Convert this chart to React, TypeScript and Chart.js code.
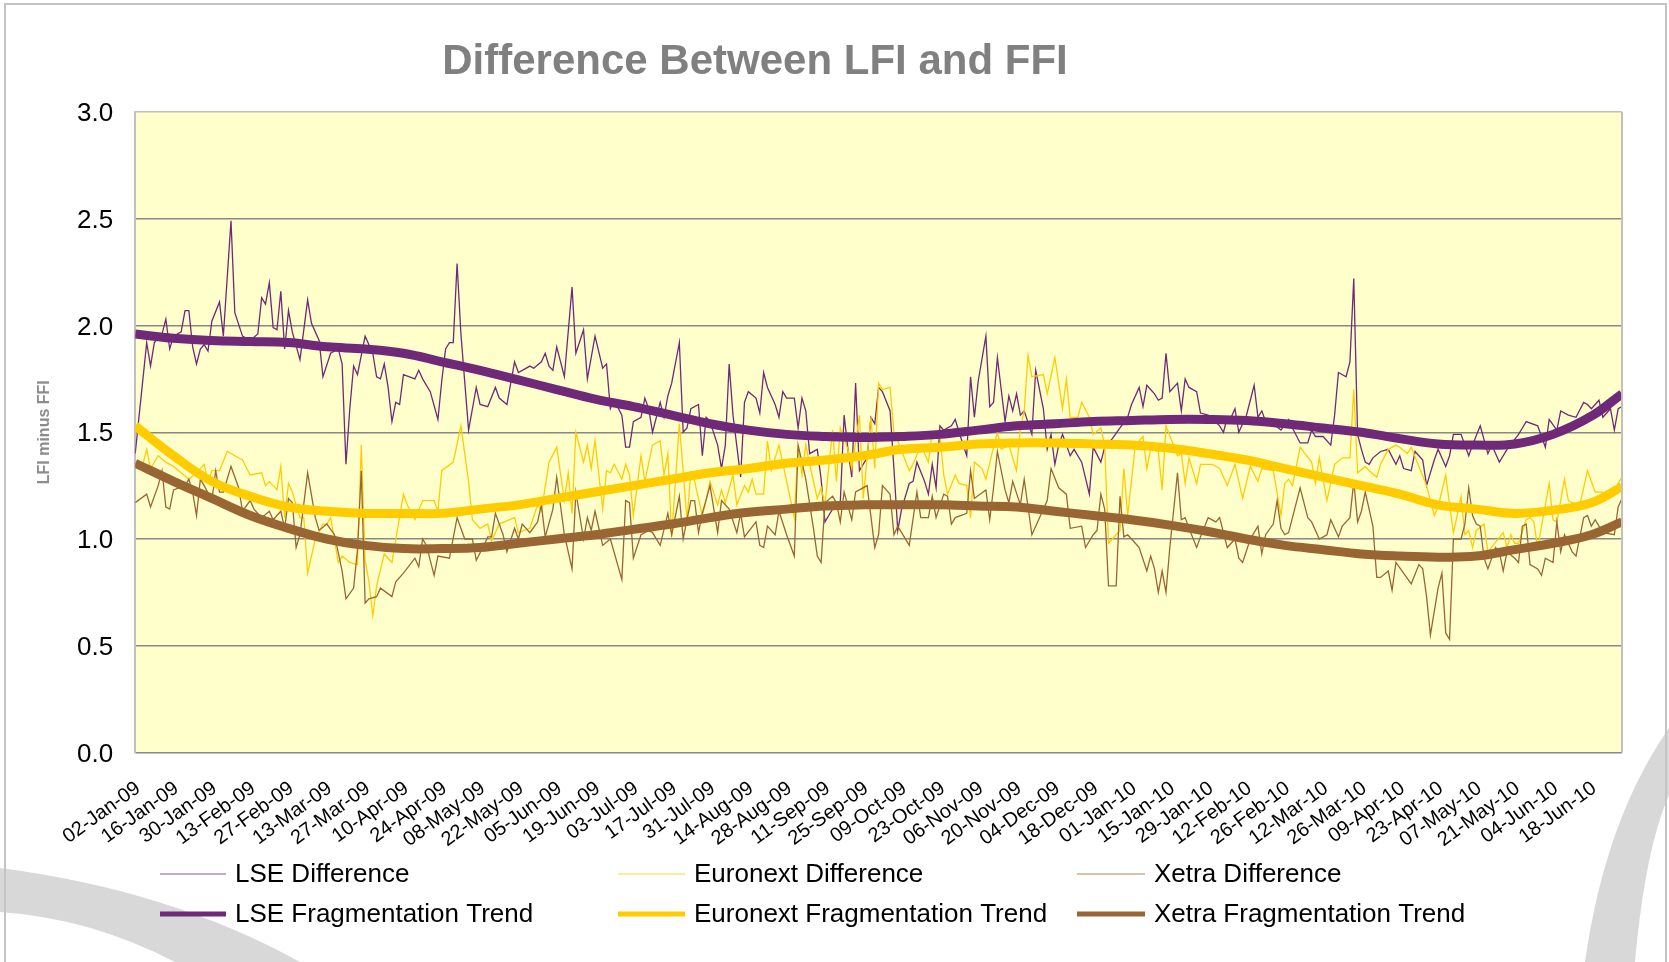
import React, { useEffect, useRef } from "react";
import { Chart, registerables } from "chart.js";

Chart.register(...registerables);

const FONT = "'Liberation Sans', Arial, sans-serif";

const tickLabels = [
  "02-Jan-09", "16-Jan-09", "30-Jan-09", "13-Feb-09", "27-Feb-09", "13-Mar-09", "27-Mar-09",
  "10-Apr-09", "24-Apr-09", "08-May-09", "22-May-09", "05-Jun-09", "19-Jun-09", "03-Jul-09",
  "17-Jul-09", "31-Jul-09", "14-Aug-09", "28-Aug-09", "11-Sep-09", "25-Sep-09", "09-Oct-09",
  "23-Oct-09", "06-Nov-09", "20-Nov-09", "04-Dec-09", "18-Dec-09", "01-Jan-10", "15-Jan-10",
  "29-Jan-10", "12-Feb-10", "26-Feb-10", "12-Mar-10", "26-Mar-10", "09-Apr-10", "23-Apr-10",
  "07-May-10", "21-May-10", "04-Jun-10", "18-Jun-10",
];

// [trading-day index, value]
const lseDiff: [number, number][] = [
  [0,1.40],[3,1.92],[4,1.81],[5,1.92],[7,1.96],[8,2.03],[9,1.89],[10,1.95],[12,1.97],[13,2.07],[14,2.07],[15,1.90],[16,1.82],[17,1.89],[18,1.91],[19,1.88],[20,2.02],[22,2.11],[23,1.95],[25,2.49],[26,2.06],[28,1.95],[30,1.93],[32,1.96],[33,2.13],[34,2.10],[35,2.20],[36,1.99],[37,1.98],[38,2.16],[39,1.89],[40,2.07],[41,1.97],[43,1.84],[45,2.12],[46,2.01],[48,1.93],[49,1.76],[51,1.87],[53,1.89],[54,1.82],[55,1.35],[56,1.61],[57,1.81],[58,1.77],[60,1.95],[62,1.87],[63,1.76],[64,1.75],
  [65,1.82],[66,1.71],[67,1.55],[68,1.64],[69,1.63],[70,1.77],[73,1.75],[74,1.79],[75,1.75],[77,1.69],[79,1.56],[80,1.74],[81,1.89],[82,1.92],[83,1.92],[84,2.29],[85,1.96],[87,1.51],[89,1.71],[90,1.63],[92,1.62],[94,1.71],[95,1.66],[97,1.63],[99,1.83],[100,1.78],[103,1.81],[104,1.80],[106,1.83],[107,1.87],[108,1.81],[109,1.79],[110,1.90],[112,1.76],[114,2.18],[115,1.87],[117,1.98],[118,1.75],[119,1.85],[120,1.95],[122,1.80],[123,1.82],[124,1.61],[125,1.65],[127,1.58],[128,1.43],[129,1.43],
  [130,1.55],[132,1.57],[133,1.66],[134,1.61],[135,1.50],[137,1.64],[138,1.57],[139,1.67],[140,1.73],[142,1.92],[143,1.50],[144,1.52],[145,1.61],[147,1.63],[148,1.39],[149,1.57],[150,1.55],[152,1.44],[153,1.33],[154,1.44],[155,1.82],[156,1.58],[158,1.29],[159,1.64],[160,1.69],[162,1.66],[163,1.59],[164,1.78],[165,1.71],[167,1.63],[168,1.57],[169,1.69],[170,1.66],[172,1.66],[173,1.52],[174,1.66],[175,1.60],[176,1.40],[178,1.42],[179,1.28],[180,1.08],[181,1.11],[183,1.17],[184,1.17],[185,1.58],[186,1.42],[187,1.29],[188,1.73],[189,1.32],[191,1.38],[192,1.57],[193,1.54],
  [194,1.71],[195,1.69],[197,1.60],[198,1.33],[199,1.04],[200,1.14],[202,1.26],[203,1.27],[204,1.36],[206,1.27],[207,1.21],[208,1.35],[209,1.24],[210,1.53],[211,1.51],[213,1.53],[214,1.56],[215,1.50],[217,1.39],[218,1.76],[219,1.57],[220,1.74],[222,1.95],[223,1.62],[224,1.64],[225,1.85],[227,1.55],[228,1.67],[229,1.60],[230,1.68],[231,1.58],[232,1.60],[234,1.49],[235,1.79],[237,1.61],[238,1.42],[239,1.49],[240,1.35],[241,1.44],[242,1.49],[244,1.39],[245,1.42],[247,1.36],[249,1.21],[250,1.43],[252,1.36],[253,1.43],[255,1.47],[257,1.52],
  [259,1.57],[260,1.63],[262,1.71],[263,1.62],[264,1.72],[266,1.68],[267,1.65],[268,1.66],[269,1.87],[270,1.69],[272,1.73],[273,1.60],[274,1.75],[275,1.71],[277,1.69],[278,1.59],[280,1.58],[283,1.53],[284,1.50],[285,1.57],[286,1.57],[287,1.61],[288,1.50],[290,1.58],[292,1.72],[293,1.57],[294,1.60],[295,1.55],[297,1.54],[299,1.51],[301,1.56],[302,1.52],[304,1.45],[306,1.45],[307,1.51],[308,1.48],[310,1.48],[312,1.44],[313,1.58],[314,1.78],[316,1.76],[317,1.83],[318,2.22],[319,1.49],[320,1.42],[321,1.36],[322,1.35],[323,1.38],
  [325,1.41],[327,1.42],[329,1.35],[330,1.39],[331,1.33],[333,1.32],[334,1.41],[336,1.37],[337,1.25],[339,1.37],[340,1.42],[342,1.34],[343,1.39],[344,1.49],[346,1.49],[348,1.39],[349,1.44],[351,1.53],[353,1.40],[354,1.44],[355,1.40],[356,1.36],[358,1.42],[361,1.49],[362,1.52],[363,1.55],[366,1.53],[368,1.43],[369,1.56],[371,1.51],[372,1.60],[374,1.58],[376,1.57],[378,1.64],[379,1.63],[380,1.61],[382,1.65],[383,1.57],[385,1.61],[386,1.51],[387,1.61],[388,1.62],
];

const euronextDiff: [number, number][] = [
  [0,1.35],[2,1.35],[3,1.42],[4,1.33],[6,1.39],[8,1.36],[10,1.34],[14,1.28],[16,1.31],[18,1.35],[19,1.27],[20,1.32],[22,1.32],[24,1.41],[26,1.39],[28,1.37],[30,1.30],[33,1.31],[34,1.25],[35,1.27],[37,1.23],[38,1.34],[39,1.10],[40,1.26],[41,1.22],[43,1.10],[44,1.10],[45,0.84],[47,1.00],[49,1.07],[50,1.07],[51,1.10],[53,0.89],[54,0.92],[56,0.89],[58,0.88],[59,1.44],[60,0.90],[61,0.80],[62,0.64],[63,0.78],
  [65,0.93],[67,0.89],[70,1.21],[71,1.16],[73,1.09],[75,1.18],[78,1.18],[79,1.13],[80,1.32],[83,1.36],[85,1.53],[87,1.27],[88,1.09],[90,1.05],[92,1.07],[93,0.99],[95,1.07],[99,1.10],[100,1.03],[103,1.05],[105,1.16],[106,1.13],[108,1.36],[110,1.43],[112,1.18],[113,1.31],[114,1.12],[115,1.50],[117,1.36],[118,1.44],[119,1.33],[120,1.46],[122,1.14],[123,1.32],[124,1.31],[125,1.35],[127,1.28],[128,1.35],[129,1.30],
  [130,1.11],[132,1.39],[133,1.27],[135,1.44],[137,1.46],[138,1.30],[139,1.40],[140,1.01],[142,1.54],[144,1.09],[145,1.31],[146,1.27],[148,1.11],[149,1.18],[150,1.27],[152,1.16],[153,1.23],[154,1.17],[156,1.30],[157,1.16],[159,1.25],[160,1.22],[161,1.28],[162,1.21],[164,1.21],[165,1.46],[166,1.32],[168,1.44],[170,1.27],[172,1.10],[173,1.44],[174,1.30],[175,1.44],[176,1.35],[178,1.19],[179,1.24],[180,1.16],[182,1.51],[183,1.27],[184,1.52],[186,1.42],[187,1.33],[189,1.58],[190,1.19],[192,1.57],[193,1.33],
  [194,1.73],[195,1.70],[197,1.71],[198,1.50],[199,1.46],[202,1.32],[203,1.35],[205,1.44],[207,1.36],[208,1.50],[210,1.49],[211,1.30],[212,1.21],[214,1.30],[215,1.26],[217,1.25],[218,1.10],[219,1.36],[221,1.33],[222,1.28],[224,1.43],[225,1.50],[226,1.42],[228,1.44],[230,1.32],[231,1.52],[232,1.60],[233,1.86],[234,1.76],[237,1.77],[238,1.68],[240,1.85],[242,1.61],[243,1.75],[244,1.57],[246,1.57],[247,1.64],[249,1.57],[250,1.49],[252,1.52],[253,1.44],[254,0.98],[257,1.04],[258,1.33],
  [259,1.11],[261,1.44],[263,1.48],[264,1.33],[265,1.42],[267,1.41],[268,1.23],[269,1.53],[272,1.39],[273,1.40],[274,1.26],[275,1.38],[277,1.26],[278,1.35],[281,1.35],[283,1.33],[285,1.25],[287,1.35],[289,1.19],[291,1.34],[293,1.27],[294,1.33],[297,1.32],[299,1.11],[300,1.26],[301,1.28],[302,1.25],[304,1.43],[307,1.36],[308,1.26],[309,1.38],[311,1.18],[313,1.35],[315,1.38],[317,1.38],[318,1.70],[319,1.31],[321,1.34],[322,1.32],
  [324,1.29],[325,1.35],[327,1.42],[329,1.44],[330,1.43],[332,1.40],[333,1.43],[335,1.34],[337,1.25],[338,1.18],[339,1.11],[340,1.15],[342,1.30],[343,1.16],[344,1.03],[345,1.11],[346,1.20],[347,1.02],[348,1.04],[349,0.96],[350,1.04],[352,1.07],[353,0.94],[357,1.03],[358,0.96],[359,1.02],[360,0.98],[361,0.98],[363,1.09],[364,1.10],[365,1.08],[366,0.96],[369,1.26],[370,1.09],[371,1.08],[373,1.28],[374,1.18],[375,1.17],[377,1.16],[379,1.32],[381,1.22],[383,1.22],[384,1.20],[386,1.23],[388,1.29],
];

const xetraDiff: [number, number][] = [
  [0,1.17],[3,1.21],[4,1.15],[6,1.25],[7,1.32],[8,1.15],[9,1.14],[10,1.23],[13,1.25],[14,1.28],[15,1.22],[16,1.11],[17,1.28],[18,1.25],[20,1.18],[21,1.32],[22,1.22],[23,1.22],[25,1.34],[27,1.24],[28,1.13],[30,1.18],[31,1.14],[33,1.10],[35,1.13],[36,1.09],[38,1.13],[39,1.05],[40,1.19],[41,1.17],[42,0.96],[43,1.02],[45,1.31],[47,1.10],[48,1.04],[50,1.07],[52,1.02],[54,0.85],[55,0.72],[57,0.77],[58,0.95],[59,1.32],[60,0.70],[61,0.72],[63,0.73],[64,0.77],
  [67,0.73],[68,0.80],[70,0.84],[73,0.91],[74,0.87],[75,1.00],[76,0.97],[78,0.83],[79,0.92],[82,0.91],[84,1.10],[86,1.00],[88,1.00],[89,0.90],[91,0.97],[92,1.01],[93,1.01],[94,1.12],[96,1.02],[97,0.94],[99,1.05],[100,1.00],[101,1.07],[103,1.03],[105,1.08],[106,1.16],[107,1.01],[109,1.14],[110,1.29],[112,1.02],[114,0.86],[115,1.22],[117,1.00],[118,1.10],[119,1.04],[120,1.13],[122,0.97],[124,1.00],[127,0.81],[128,1.18],[129,1.17],
  [130,0.91],[132,1.02],[134,1.04],[135,1.03],[137,0.97],[139,1.12],[140,1.02],[142,1.20],[143,1.00],[145,1.18],[146,1.18],[147,1.03],[148,1.12],[150,1.25],[152,1.03],[153,1.18],[155,1.14],[157,1.03],[158,1.12],[159,1.01],[162,1.08],[163,0.97],[164,0.96],[165,1.06],[167,1.02],[168,1.13],[170,1.02],[172,0.92],[173,1.44],[175,1.28],[177,1.05],[178,0.92],[179,0.89],[180,1.17],[182,1.20],[183,1.17],[184,1.08],[185,1.22],[187,1.09],[188,1.22],[191,1.25],[193,0.96],[194,1.02],
  [195,1.25],[197,1.21],[198,1.02],[199,1.06],[202,0.97],[204,1.22],[205,1.10],[207,1.10],[208,1.20],[209,1.10],[211,1.21],[212,1.20],[213,1.07],[214,1.10],[217,1.12],[218,1.32],[219,1.19],[222,1.23],[223,1.09],[224,1.24],[225,1.41],[227,1.23],[228,1.17],[229,1.27],[231,1.16],[232,1.28],[234,1.02],[236,1.10],[238,1.18],[239,1.33],[241,1.24],[243,1.21],[244,1.05],[247,1.06],[248,0.96],[250,1.02],[251,1.04],[252,1.21],[253,1.14],[254,0.78],[256,0.78],[257,1.20],[258,1.01],
  [259,1.02],[261,0.98],[262,0.96],[264,0.85],[265,0.92],[266,0.86],[267,0.75],[268,0.85],[269,0.75],[270,0.96],[272,1.31],[273,1.09],[274,1.10],[275,1.05],[277,0.96],[278,1.01],[280,1.10],[282,1.08],[283,1.10],[285,0.96],[287,1.00],[288,0.91],[289,0.89],[291,1.00],[293,1.06],[294,0.93],[295,1.02],[297,1.07],[298,1.18],[299,1.05],[300,1.02],[301,1.03],[304,1.24],[306,1.10],[307,1.08],[309,1.00],[311,1.02],[312,1.09],[314,1.01],[315,1.06],[317,1.10],[318,1.27],[319,1.08],[320,1.13],[321,1.22],[323,1.06],
  [324,0.82],[325,0.82],[327,0.85],[328,0.76],[329,0.89],[331,0.84],[333,0.79],[335,0.88],[336,0.86],[337,0.73],[338,0.55],[339,0.66],[340,0.77],[341,0.84],[342,0.56],[343,0.53],[344,1.00],[346,1.00],[347,1.07],[348,1.24],[349,1.11],[350,1.07],[351,1.06],[352,0.91],[353,0.86],[355,0.96],[356,0.94],[357,0.85],[358,0.94],[360,0.91],[361,0.89],[362,1.06],[363,1.07],[364,0.88],[366,0.86],[367,0.83],[368,0.91],[370,0.89],[371,1.08],[372,0.94],[373,1.02],[375,0.94],[376,0.92],[378,1.10],[379,1.11],[380,1.06],[381,1.09],[383,1.03],[386,1.02],[387,1.15],[388,1.19],
];

const trendIdx = [0,10,20,30,40,50,60,70,80,90,100,110,120,130,140,150,160,170,180,190,200,210,220,230,240,250,260,270,280,290,300,310,320,330,340,350,360,370,380,388];
const lseTrend = [1.96,1.94,1.93,1.925,1.92,1.90,1.89,1.87,1.83,1.79,1.745,1.70,1.655,1.62,1.58,1.54,1.51,1.49,1.48,1.475,1.48,1.49,1.51,1.53,1.54,1.55,1.555,1.56,1.56,1.555,1.54,1.52,1.50,1.47,1.445,1.44,1.445,1.49,1.575,1.68];
const euronextTrend = [1.53,1.39,1.27,1.20,1.15,1.13,1.12,1.12,1.12,1.14,1.16,1.19,1.22,1.25,1.28,1.31,1.33,1.355,1.37,1.39,1.42,1.43,1.445,1.45,1.45,1.445,1.44,1.425,1.40,1.37,1.33,1.29,1.25,1.21,1.16,1.14,1.12,1.135,1.17,1.245];
const xetraTrend = [1.355,1.27,1.19,1.11,1.05,1.00,0.97,0.955,0.955,0.96,0.98,1.00,1.02,1.045,1.07,1.10,1.125,1.14,1.155,1.16,1.16,1.16,1.155,1.15,1.13,1.11,1.09,1.065,1.035,1.00,0.97,0.95,0.93,0.92,0.915,0.92,0.95,0.98,1.02,1.08];

const seriesNames = [
  "LSE Difference", "Euronext Difference", "Xetra Difference",
  "LSE Fragmentation Trend", "Euronext Fragmentation Trend", "Xetra Fragmentation Trend",
];

const LSE_COLOR = "#702878";
const EUR_COLOR = "#FFCC00";
const XET_COLOR = "#996633";

const pts = (arr: [number, number][]) => arr.map(([x, y]) => ({ x, y }));
const trendPts = (vals: number[]) => trendIdx.map((x, i) => ({ x, y: vals[i] }));

const decorPlugin = {
  id: "decor",
  beforeDraw(chart: any) {
    const { ctx, chartArea: a } = chart;
    ctx.save();
    ctx.fillStyle = "#ffffff";
    ctx.fillRect(0, 0, chart.width, chart.height);
    // decorative swooshes
    ctx.fillStyle = "#d8d8d8";
    ctx.beginPath();
    ctx.moveTo(0, 868);
    ctx.quadraticCurveTo(170, 890, 300, 962);
    ctx.lineTo(175, 962);
    ctx.quadraticCurveTo(90, 918, 0, 912);
    ctx.closePath();
    ctx.fill();
    ctx.beginPath();
    ctx.moveTo(1669, 728);
    ctx.quadraticCurveTo(1605, 820, 1585, 962);
    ctx.lineTo(1635, 962);
    ctx.quadraticCurveTo(1645, 850, 1669, 795);
    ctx.closePath();
    ctx.fill();
    // outer frame
    ctx.strokeStyle = "#c4c4c4";
    ctx.lineWidth = 2;
    ctx.beginPath();
    ctx.moveTo(5, 962);
    ctx.lineTo(5, 4);
    ctx.lineTo(1666, 4);
    ctx.lineTo(1666, 962);
    ctx.stroke();
    // plot area
    ctx.fillStyle = "#FFFFCC";
    ctx.fillRect(a.left, a.top, a.right - a.left, a.bottom - a.top);
    ctx.restore();
  },
  afterDatasetsDraw(chart: any) {
    const { ctx, chartArea: a } = chart;
    ctx.save();
    ctx.strokeStyle = "#c0c0c0";
    ctx.lineWidth = 2;
    ctx.beginPath();
    ctx.moveTo(a.right, a.bottom);
    ctx.lineTo(a.right, a.top);
    ctx.stroke();
    ctx.restore();
  },
  afterDraw(chart: any) {
    const { ctx } = chart;
    ctx.save();
    ctx.fillStyle = "#808080";
    ctx.font = `bold 42px ${FONT}`;
    ctx.textAlign = "center";
    ctx.textBaseline = "middle";
    ctx.fillText("Difference Between LFI and FFI", 755, 62);

    const cols = [
      { x1: 160, x2: 226, tx: 235 },
      { x1: 618, x2: 685, tx: 694 },
      { x1: 1077, x2: 1145, tx: 1154 },
    ];
    const rows = [874, 914];
    const ds = chart.data.datasets;
    ctx.font = `26px ${FONT}`;
    ctx.textAlign = "left";
    ctx.fillStyle = "#000000";
    for (let i = 0; i < 6; i++) {
      const c = cols[i % 3];
      const y = rows[Math.floor(i / 3)];
      const d = ds[i];
      ctx.strokeStyle = d.borderColor;
      ctx.lineWidth = i < 3 ? 1.2 : 5;
      ctx.globalAlpha = i < 3 ? 0.8 : 1;
      ctx.beginPath();
      ctx.moveTo(c.x1, y);
      ctx.lineTo(c.x2, y);
      ctx.stroke();
      ctx.globalAlpha = 1;
      ctx.fillText(d.label, c.tx, y + 1);
    }
    ctx.restore();
  },
};

export default function App() {
  const ref = useRef<HTMLCanvasElement | null>(null);
  useEffect(() => {
    if (!ref.current) return;
    const thin = (label: string, color: string, data: any[], order: number) => ({
      label, data, borderColor: color, backgroundColor: color, borderWidth: 1.3,
      pointRadius: 0, tension: 0, fill: false, order,
    });
    const thick = (label: string, color: string, data: any[], order: number) => ({
      label, data, borderColor: color, backgroundColor: color, borderWidth: 9,
      pointRadius: 0, tension: 0.4, fill: false, order, borderCapStyle: "butt",
    });
    const chart = new Chart(ref.current, {
      type: "line",
      data: {
        datasets: [
          thin(seriesNames[0], LSE_COLOR, pts(lseDiff), 6),
          thin(seriesNames[1], EUR_COLOR, pts(euronextDiff), 5),
          thin(seriesNames[2], XET_COLOR, pts(xetraDiff), 4),
          thick(seriesNames[3], LSE_COLOR, trendPts(lseTrend), 3),
          thick(seriesNames[4], EUR_COLOR, trendPts(euronextTrend), 2),
          thick(seriesNames[5], XET_COLOR, trendPts(xetraTrend), 1),
        ] as any,
      },
      options: {
        responsive: false,
        animation: false,
        devicePixelRatio: 1,
        layout: { padding: { left: 30, right: 47, top: 112, bottom: 0 } },
        plugins: { legend: { display: false }, tooltip: { enabled: false }, title: { display: false } },
        scales: {
          x: {
            type: "linear",
            min: 0,
            max: 388,
            grid: { display: false, drawTicks: false },
            border: { display: false },
            ticks: {
              stepSize: 10,
              autoSkip: false,
              includeBounds: false,
              maxRotation: 36,
              minRotation: 36,
              padding: 24,
              labelOffset: 3,
              color: "#000000",
              font: { family: FONT, size: 20 },
              callback: (v: any) => {
                const k = Math.round(Number(v) / 10);
                return Number(v) % 10 === 0 && k < tickLabels.length ? tickLabels[k] : "";
              },
            },
            afterFit: (s: any) => { s.height = 209.5; },
          },
          y: {
            min: 0,
            max: 3,
            grid: {
              drawTicks: false,
              lineWidth: 1.5,
              color: (c: any) => (c.tick && c.tick.value === 3 ? "#c0c0c0" : "#888888"),
            },
            border: { display: true, color: "#c0c0c0", width: 2 },
            ticks: {
              stepSize: 0.5,
              padding: 22,
              labelOffset: 2,
              color: "#000000",
              font: { family: FONT, size: 26 },
              callback: (v: any) => Number(v).toFixed(1),
            },
            title: {
              display: true,
              text: "LFI minus FFI",
              color: "#8c8c8c",
              font: { family: FONT, size: 16, weight: "bold" },
              padding: { top: 5, bottom: 0 },
            },
            afterFit: (s: any) => { s.width = 105.2; },
          },
        },
      } as any,
      plugins: [decorPlugin],
    });
    return () => chart.destroy();
  }, []);
  return (
    <div style={{ position: "fixed", left: 0, top: 0, width: 1669, height: 962, background: "#fff" }}>
      <canvas ref={ref} width={1669} height={962} style={{ display: "block" }} />
    </div>
  );
}
